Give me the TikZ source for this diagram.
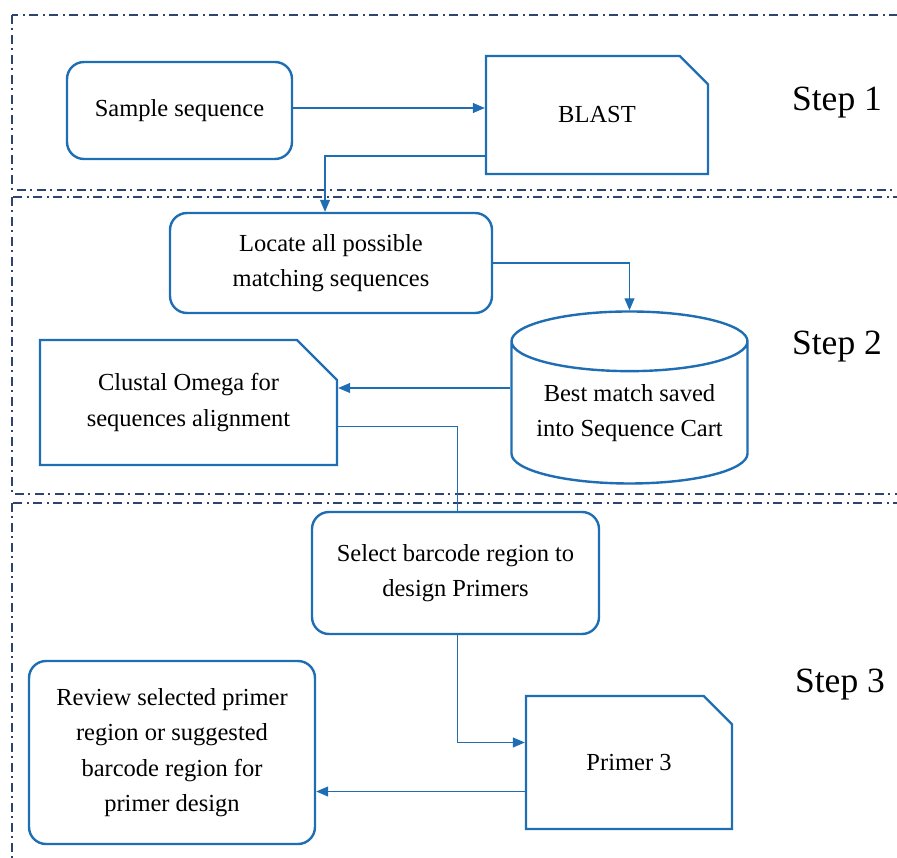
\documentclass[tikz,border=0pt]{standalone}
\usepackage{fontspec}
\setmainfont{Liberation Serif}
\usetikzlibrary{shapes.misc,shapes.geometric,arrows.meta}
\tikzset{>={Triangle[width=10pt,length=12pt]}}
\definecolor{boxblue}{HTML}{1F6DB3}
\definecolor{framenavy}{HTML}{2F4370}
\tikzset{
  boxtext/.style={align=center, font=\fontsize{24.5}{35.5}\selectfont, inner sep=0pt},
  roundbox/.style={boxtext, draw=boxblue, line width=2.4pt, rounded corners=17pt},
  cutbox/.style={boxtext, draw=boxblue, line width=2.4pt, chamfered rectangle,
    chamfered rectangle corners=north east,
    chamfered rectangle xsep=20pt, chamfered rectangle ysep=20pt},
  dbbox/.style={boxtext, draw=boxblue, line width=2.4pt, cylinder,
    shape border rotate=90, aspect=0.32},
  link/.style={draw=boxblue, line width=1.2pt},
  stage/.style={draw=framenavy, line width=2pt,
    dash pattern=on 9pt off 4pt on 2pt off 5pt},
  steplabel/.style={font=\fontsize{35.5}{40}\selectfont}
}

\begin{document}
\begin{tikzpicture}[x=1pt, y=-1pt]
  \useasboundingbox (0,0) rectangle (897,858);

  % dashed step frames
  \begin{scope}
    \clip (0,0) rectangle (897,858);
    \draw[stage] (12,15) rectangle (920,190);
    \draw[stage] (12,197) rectangle (920,494);
    \draw[stage] (12,503) rectangle (920,880);
  \end{scope}

  % step 1
  \node[roundbox, minimum width=225pt, minimum height=97pt]
    (sample) at (179.5,110.5) {Sample sequence};
  \node[cutbox, minimum width=222pt, minimum height=118pt]
    (blast) at (597,115) {BLAST};
  \node[steplabel] (step1) at (837,103) {Step 1};

  % step 2
  \node[roundbox, minimum width=322pt, minimum height=100pt]
    (locate) at (331,263) {Locate all possible\\matching sequences};
  \node[dbbox, minimum width=236pt, minimum height=172pt]
    (cart) at (629.5,413) {Best match saved\\into Sequence Cart};
  \node[cutbox, minimum width=297pt, minimum height=125pt]
    (clustal) at (188.5,402.5) {Clustal Omega for\\sequences alignment};
  \node[steplabel] (step2) at (837,347) {Step 2};

  % step 3
  \node[roundbox, minimum width=287pt, minimum height=122pt]
    (select) at (455.5,573) {Select barcode region to\\design Primers};
  \node[cutbox, minimum width=206pt, minimum height=133pt]
    (primer) at (629,762.5) {Primer 3};
  \node[roundbox, minimum width=286pt, minimum height=183pt]
    (review) at (172,752.5) {Review selected primer\\region or suggested\\barcode region for\\primer design};
  \node[steplabel] (step3) at (840,685) {Step 3};

  % connectors
  \draw[link, ->] (sample.east |- 0,108) -- (blast.west |- 0,108);
  \draw[link, ->] ([yshift=-41pt]blast.west) -| ([xshift=-6pt]locate.north);
  \draw[link, ->] (locate.east) -| (cart.top);
  \draw[link, ->] ([yshift=25pt]cart.west) -- ([yshift=25pt]cart.west -| clustal.east);
  \draw[link] ([yshift=-24pt]clustal.east) -| ([xshift=2pt]select.north);
  \draw[link, ->] ([xshift=2pt]select.south) |- ([yshift=20pt]primer.west);
  \draw[link, ->] ([yshift=-29pt]primer.west) -- ([yshift=-29pt]primer.west -| review.east);
\end{tikzpicture}
\end{document}
